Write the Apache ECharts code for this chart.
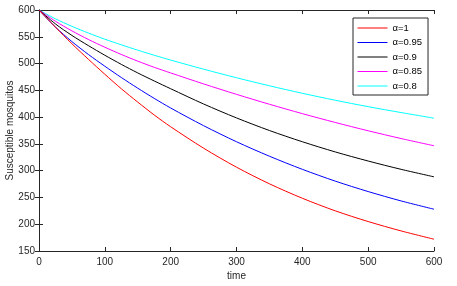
<!DOCTYPE html>
<html><head><meta charset="utf-8">
<script src="https://cdn.jsdelivr.net/npm/echarts@6/dist/echarts.min.js"></script>
<style>html,body{margin:0;padding:0;background:#fff}#c{width:457px;height:286px}</style>
</head><body><div id="c"></div>
<script>
var times = [0,25,50,75,100,125,150,175,200,250,300,350,400,450,500,550,600];
var alpha1   = [600,568,537,508,480,453,428,404,382,342,306.5,275.5,248.5,225,205,187.5,172];
var alpha095 = [600,568,541,517,495,474,454,435,417,384,354,327,302.5,280.5,261,243.5,228];
var alpha09  = [600,574,552.5,533.5,515.5,498.5,482.5,467.5,453,424.5,398.5,375,354,335,318,302.5,288.5];
var alpha085 = [600,579,561,545,530.5,517,504.5,493,482.5,462,442.5,424,406.5,390,374.5,360,346.5];
var alpha08  = [600,583.5,569.5,557,545.5,535,525,515.5,506.5,489.5,473.5,458.5,444.5,431.5,419.5,408.5,398];
var seriesNames = ['\u03b1=1','\u03b1=0.95','\u03b1=0.9','\u03b1=0.85','\u03b1=0.8'];
var seriesColors = ['#ff0000','#0000ff','#000000','#ff00ff','#00ffff'];
var seriesValues = [alpha1, alpha095, alpha09, alpha085, alpha08];

function pairs(vals){ return times.map(function(t,i){ return [t, vals[i]]; }); }
var font = 'Liberation Sans, Arial, Helvetica, sans-serif';
var chart = echarts.init(document.getElementById('c'), null, {renderer:'canvas'});
var axisLine = {show:true, lineStyle:{color:'#262626', width:1}};
var tick = {show:true, inside:true, length:4, lineStyle:{color:'#262626'}};
chart.setOption({
  animation:false,
  grid:{left:39, right:23, top:10, bottom:35, show:false, containLabel:false, outerBoundsMode:'none'},
  legend:{
    show:true, left:353, top:18, orient:'vertical',
    data:seriesNames, itemWidth:30, itemHeight:8, itemGap:4.5,
    padding:[5,6,4,4], borderColor:'#262626', borderWidth:1, backgroundColor:'#fff',
    itemStyle:{opacity:0, borderWidth:0},
    lineStyle:{width:1},
    textStyle:{fontFamily:font, fontSize:9.5, color:'#000', padding:[0,0,0,0]}
  },
  xAxis:[
    {type:'value', min:0, max:600, interval:100, position:'bottom',
     name:'time', nameLocation:'middle', nameGap:20, nameMoveOverlap:false,
     nameTextStyle:{fontFamily:font, fontSize:10, color:'#262626'},
     axisLine:axisLine, axisTick:tick, splitLine:{show:false},
     axisLabel:{fontFamily:font, fontSize:10, color:'#262626', margin:6}},
    {type:'value', min:0, max:600, interval:100, position:'top',
     axisLine:axisLine, axisTick:tick, splitLine:{show:false}, axisLabel:{show:false}}
  ],
  yAxis:[
    {type:'value', min:150, max:600, interval:50, position:'left',
     name:'Susceptible mosquitos', nameLocation:'middle', nameGap:24, nameMoveOverlap:false,
     nameTextStyle:{fontFamily:font, fontSize:10, color:'#262626'},
     axisLine:axisLine, axisTick:tick, splitLine:{show:false},
     axisLabel:{fontFamily:font, fontSize:10, color:'#262626', margin:4}},
    {type:'value', min:150, max:600, interval:50, position:'right',
     axisLine:axisLine, axisTick:tick, splitLine:{show:false}, axisLabel:{show:false}}
  ],
  series: seriesValues.map(function(v,i){
    return {name:seriesNames[i], type:'line', data:pairs(v), smooth:0.3,
      showSymbol:false, symbol:'none', lineStyle:{color:seriesColors[i], width:1},
      itemStyle:{color:seriesColors[i]}, z: 5-i};
  })
});
</script></body></html>
